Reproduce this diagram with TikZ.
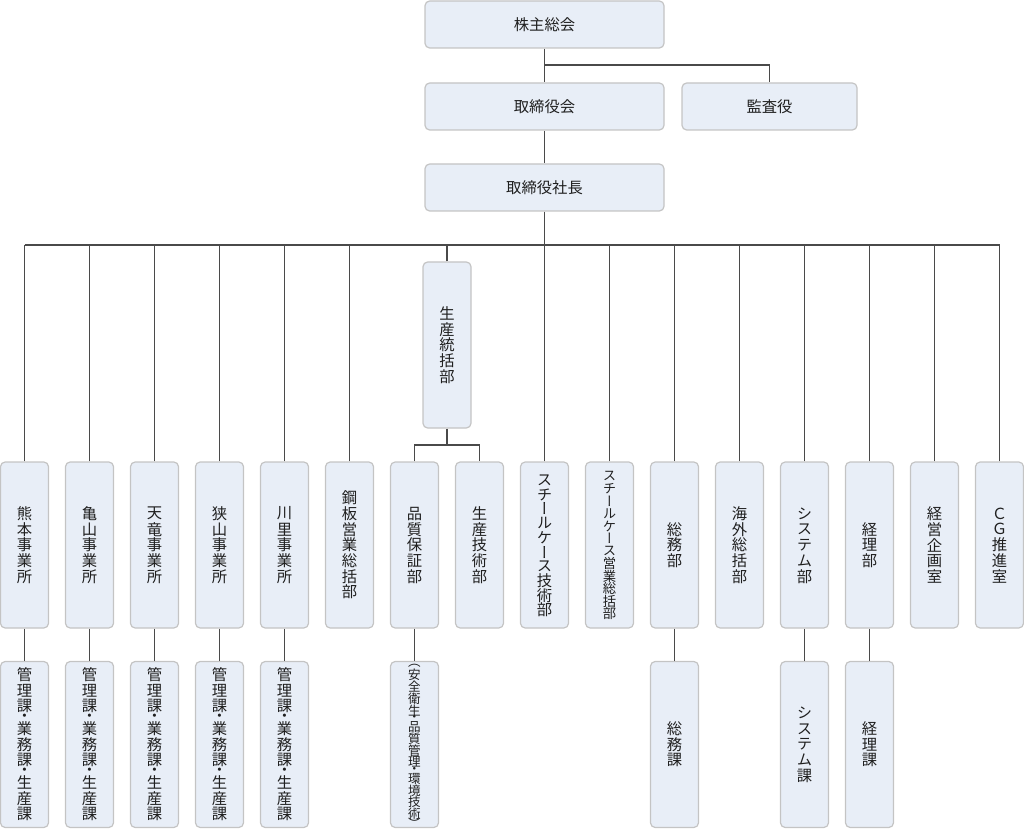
\documentclass[tikz,border=0pt]{standalone}
\usepackage{fontspec}
\newfontfamily\jpfont{Noto Sans CJK JP}
\newfontfamily\jpvert[RawFeature=+vert]{Noto Sans CJK JP}
\definecolor{boxfill}{HTML}{E8EEF7}
\definecolor{boxline}{HTML}{C4C4C4}
\definecolor{wirecol}{HTML}{4A4A4A}
\newdimen\tatepitch
\tatepitch=11.8pt
\def\tatecell#1#2{\hbox to 1.3em{\hss\vbox to #1{\vss\hbox{#2}\vss}\hss}}
% small cells
\def\tdot{\tatecell{0.42\tatepitch}{・}}
\def\tlp{\tatecell{0.55\tatepitch}{︵}}
\def\trp{\tatecell{0.55\tatepitch}{︶}}
\def\tateloop#1{\ifx#1\relax\else
  \ifcat\noexpand#1\relax#1\else\tatecell{\tatepitch}{#1}\fi
  \expandafter\tateloop\fi}
\newcommand\tate[2][11.8pt]{\vbox{\offinterlineskip\tatepitch=#1\relax\tateloop#2\relax}}
\tikzset{
  topbox/.style={draw=boxline, fill=boxfill, rounded corners=3.5pt, line width=0.9pt,
    minimum width=179.25pt, minimum height=35.25pt, inner sep=0pt,
    font=\jpfont\fontsize{11.5pt}{13pt}\selectfont, text=black!88},
  dept/.style={draw=boxline, fill=boxfill, rounded corners=3.5pt, line width=0.9pt,
    minimum width=36pt, minimum height=124.5pt, inner sep=0pt,
    font=\jpvert\fontsize{11.5pt}{13pt}\selectfont, text=black!88},
  small/.style={font=\jpvert\fontsize{#1}{13pt}\selectfont},
  wire/.style={draw=wirecol, line width=0.8pt},
}
\begin{document}
\begin{tikzpicture}[x=0.75pt, y=-0.75pt]
			%%%%% START %%%%%
			\useasboundingbox (0,0) rectangle (1024,830);
			
			\node[topbox] (kabunushi) at (544.5, 24.5) {株主総会};
			\node[topbox] (torikai) at (544.5, 106.5) {取締役会};
			\node[topbox, minimum width=131.25pt] (kansa) at (769.5, 106.5) {監査役};
			\node[topbox] (shacho) at (544.5, 187.5) {取締役社長};
			
			\coordinate (kbranch) at (544.5, 65);
			\coordinate (bus) at (0, 245);
			\coordinate (sbranch) at (0, 445);
			
			\draw[wire] (kabunushi.south) -- (torikai.north);
			\draw[wire] (kbranch) -| (kansa.north);
			\draw[wire] (torikai.south) -- (shacho.north);
			\draw[wire] (shacho.south) -- (shacho.south |- bus);
			
			%%%%% BU %%%%%
			\node[dept] (kumamoto) at (24.5, 545) {\tate{熊本事業所}};
			\node[dept] (kameyama) at (89.5, 545) {\tate{亀山事業所}};
			\node[dept] (tenryu) at (154.5, 545) {\tate{天竜事業所}};
			\node[dept] (sayama) at (219.5, 545) {\tate{狭山事業所}};
			\node[dept] (kawasato) at (284.5, 545) {\tate{川里事業所}};
			\node[dept] (kouhan) at (349.5, 545) {\tate{鋼板営業総括部}};
			\node[dept] (seitou) at (447, 345) {\tate{生産統括部}};
			\node[dept] (hinshitsu) at (414.5, 545) {\tate{品質保証部}};
			\node[dept] (seigi) at (479.5, 545) {\tate{生産技術部}};
			\node[dept] (scgijutsu) at (544.5, 545) {\tate[10.8pt]{スチールケース技術部}};
			\node[dept, small=10pt] (sceigyo) at (609.5, 545) {\tate[9.4pt]{スチールケース営業総括部}};
			\node[dept] (soumu) at (674.5, 545) {\tate{総務部}};
			\node[dept] (kaigai) at (739.5, 545) {\tate{海外総括部}};
			\node[dept] (system) at (804.5, 545) {\tate{システム部}};
			\node[dept] (keiri) at (869.5, 545) {\tate{経理部}};
			\node[dept] (keiki) at (934.5, 545) {\tate{経営企画室}};
			\node[dept] (cg) at (999.5, 545) {\tate{ＣＧ推進室}};
			
			\draw[wire] (kumamoto.north |- bus) -- (cg.north |- bus);
			\draw[wire] (kumamoto.north) -- (kumamoto.north |- bus);
			\draw[wire] (kameyama.north) -- (kameyama.north |- bus);
			\draw[wire] (tenryu.north) -- (tenryu.north |- bus);
			\draw[wire] (sayama.north) -- (sayama.north |- bus);
			\draw[wire] (kawasato.north) -- (kawasato.north |- bus);
			\draw[wire] (kouhan.north) -- (kouhan.north |- bus);
			\draw[wire] (seitou.north) -- (seitou.north |- bus);
			\draw[wire] (scgijutsu.north) -- (scgijutsu.north |- bus);
			\draw[wire] (sceigyo.north) -- (sceigyo.north |- bus);
			\draw[wire] (soumu.north) -- (soumu.north |- bus);
			\draw[wire] (kaigai.north) -- (kaigai.north |- bus);
			\draw[wire] (system.north) -- (system.north |- bus);
			\draw[wire] (keiri.north) -- (keiri.north |- bus);
			\draw[wire] (keiki.north) -- (keiki.north |- bus);
			\draw[wire] (cg.north) -- (cg.north |- bus);
			
			\draw[wire] (seitou.south) -- (seitou.south |- sbranch);
			\draw[wire] (hinshitsu.north) |- (sbranch -| seigi.north) -- (seigi.north);
			
			%%%%% KA %%%%%
			\node[dept] (kumamotoka) at (24.5, 744.5) {\tate{管理課\tdot 業務課\tdot 生産課}};
			\node[dept] (kameyamaka) at (89.5, 744.5) {\tate{管理課\tdot 業務課\tdot 生産課}};
			\node[dept] (tenryuka) at (154.5, 744.5) {\tate{管理課\tdot 業務課\tdot 生産課}};
			\node[dept] (sayamaka) at (219.5, 744.5) {\tate{管理課\tdot 業務課\tdot 生産課}};
			\node[dept] (kawasatoka) at (284.5, 744.5) {\tate{管理課\tdot 業務課\tdot 生産課}};
			\node[dept, small=9.4pt] (hinshitsuka) at (414.5, 744.5) {\tate[8.8pt]{\tlp 安全衛生\tdot 品質管理\tdot 環境技術\trp}};
			\node[dept] (soumuka) at (674.5, 744.5) {\tate{総務課}};
			\node[dept] (systemka) at (804.5, 744.5) {\tate{システム課}};
			\node[dept] (keirika) at (869.5, 744.5) {\tate{経理課}};
			
			\draw[wire] (kumamoto.south) -- (kumamotoka.north);
			\draw[wire] (kameyama.south) -- (kameyamaka.north);
			\draw[wire] (tenryu.south) -- (tenryuka.north);
			\draw[wire] (sayama.south) -- (sayamaka.north);
			\draw[wire] (kawasato.south) -- (kawasatoka.north);
			\draw[wire] (hinshitsu.south) -- (hinshitsuka.north);
			\draw[wire] (soumu.south) -- (soumuka.north);
			\draw[wire] (system.south) -- (systemka.north);
			\draw[wire] (keiri.south) -- (keirika.north);
			
			%%%%% END %%%%%
\end{tikzpicture}
\end{document}
